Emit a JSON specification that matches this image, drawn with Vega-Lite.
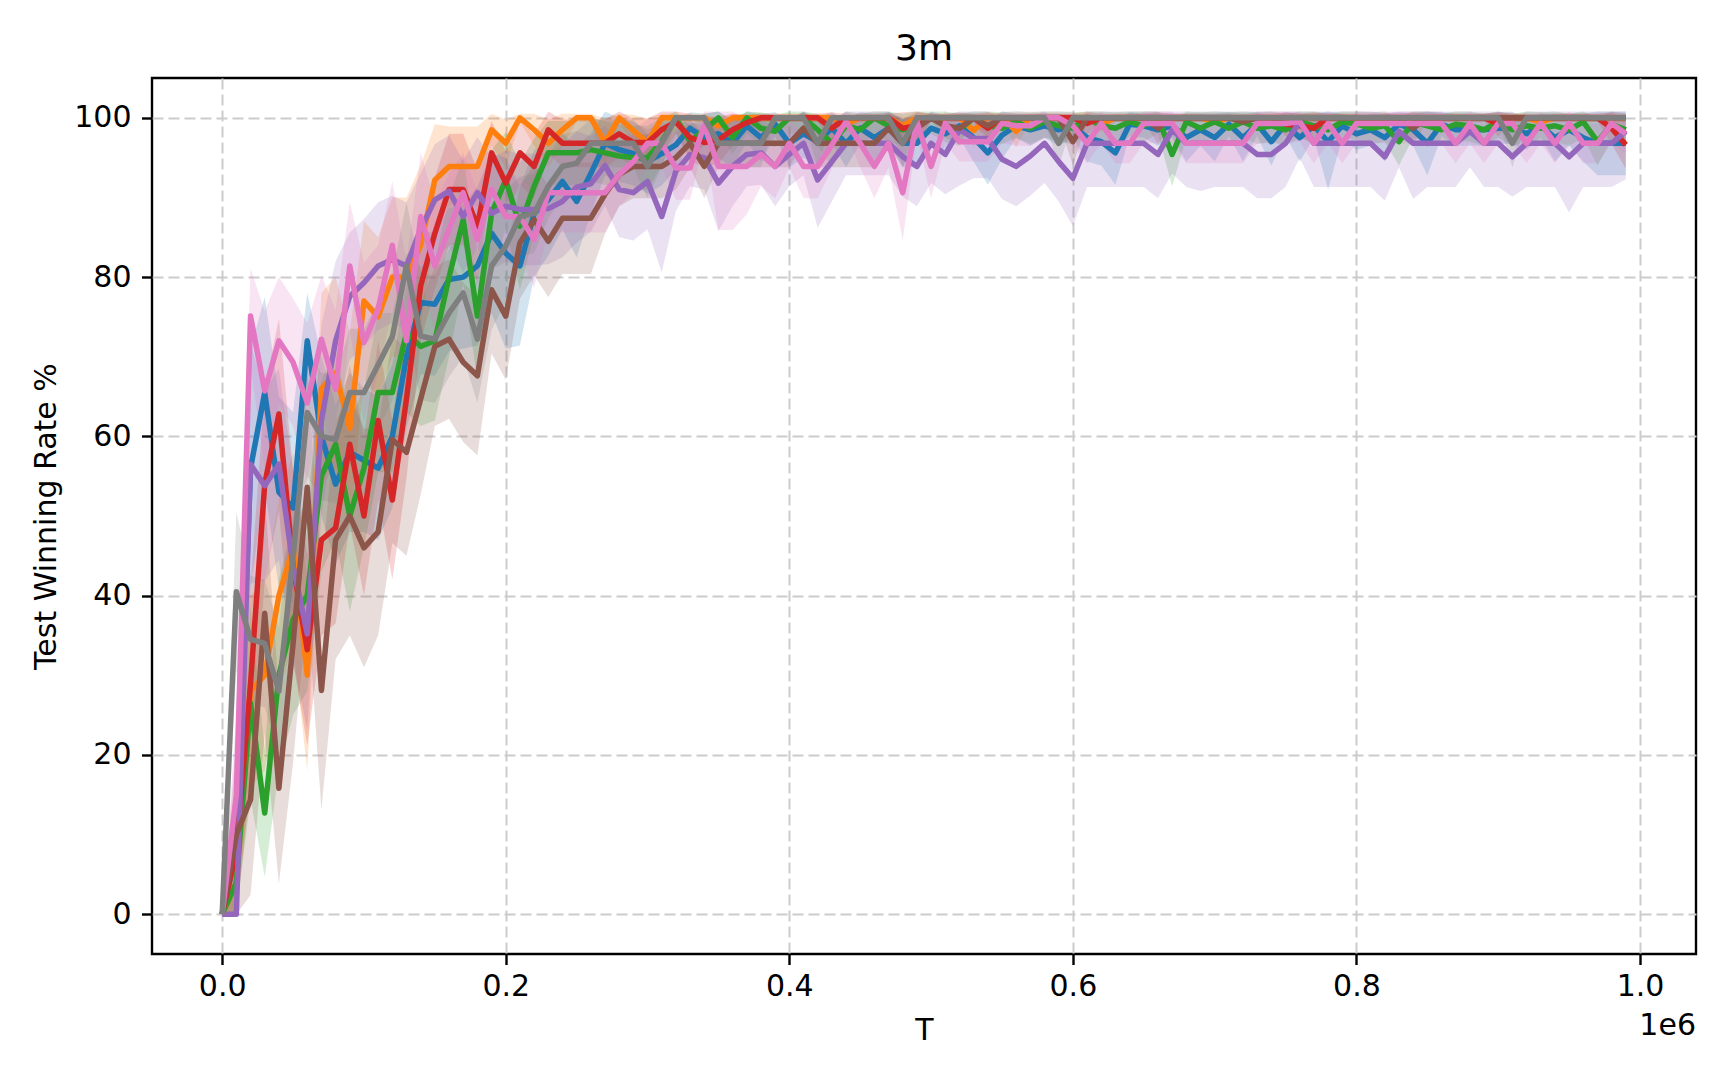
{
  "$schema": "https://vega.github.io/schema/vega-lite/v6.json",
  "width": 1544,
  "height": 876,
  "autosize": {"type": "none"},
  "padding": {"left": 152, "top": 78, "right": 32, "bottom": 126},
  "background": "white",
  "title": {"text": "3m", "fontSize": 36, "font": "DejaVu Sans", "fontWeight": "normal", "color": "black", "offset": 10.5},
  "config": {
    "view": {"stroke": "black", "strokeWidth": 2.4},
    "font": "DejaVu Sans",
    "axis": {
      "labelFontSize": 30, "labelColor": "black", "labelPadding": 10.5,
      "tickSize": 10.5, "tickWidth": 2.4, "tickColor": "black",
      "domain": false, "grid": true, "gridColor": "#cccccc", "gridDash": [11, 5], "gridWidth": 2,
      "titleFontSize": 30, "titleFontWeight": "normal", "titleColor": "black",
      "labelFlush": false, "labelOverlap": false
    }
  },
  "data": {"values": [
{"s":"A","t":0,"m":0,"l":0,"h":0},{"s":"A","t":10000,"m":8,"l":0,"h":16},{"s":"A","t":20000,"m":56,"l":41,"h":71},{"s":"A","t":30000,"m":65.5,"l":53.5,"h":77.5},{"s":"A","t":40000,"m":53,"l":41,"h":65},{"s":"A","t":50000,"m":51,"l":39,"h":63},{"s":"A","t":60000,"m":72,"l":66,"h":78},{"s":"A","t":70000,"m":60,"l":50,"h":70},{"s":"A","t":80000,"m":54,"l":44,"h":64},{"s":"A","t":90000,"m":58,"l":48,"h":68},
{"s":"A","t":100000,"m":57,"l":48,"h":66},{"s":"A","t":110000,"m":56,"l":47,"h":65},{"s":"A","t":120000,"m":60,"l":51,"h":69},{"s":"A","t":130000,"m":70,"l":61,"h":79},{"s":"A","t":140000,"m":76.8,"l":67.8,"h":85.8},{"s":"A","t":150000,"m":76.6,"l":67.6,"h":85.6},{"s":"A","t":160000,"m":79.7,"l":70.7,"h":88.7},{"s":"A","t":170000,"m":80,"l":71,"h":89},{"s":"A","t":180000,"m":81.4,"l":71.4,"h":91.4},{"s":"A","t":190000,"m":85.5,"l":75.5,"h":95.5},
{"s":"A","t":200000,"m":83,"l":71,"h":95},{"s":"A","t":210000,"m":81.4,"l":71.4,"h":91.4},{"s":"A","t":220000,"m":88,"l":80,"h":96},{"s":"A","t":230000,"m":89.7,"l":82.7,"h":96.7},{"s":"A","t":240000,"m":92,"l":86,"h":98},{"s":"A","t":250000,"m":89.5,"l":82.5,"h":96.5},{"s":"A","t":260000,"m":93,"l":88,"h":98},{"s":"A","t":270000,"m":96.8,"l":92.8,"h":100.8},{"s":"A","t":280000,"m":96,"l":92,"h":100},{"s":"A","t":290000,"m":95.5,"l":91.5,"h":99.5},
{"s":"A","t":300000,"m":94.5,"l":90.5,"h":98.5},{"s":"A","t":310000,"m":95.5,"l":91.5,"h":99.5},{"s":"A","t":320000,"m":96.6,"l":93.6,"h":99.6},{"s":"A","t":330000,"m":98.7,"l":96.7,"h":100.7},{"s":"A","t":340000,"m":97.5,"l":94.5,"h":100.5},{"s":"A","t":350000,"m":98,"l":95,"h":100.8},{"s":"A","t":360000,"m":96.8,"l":93.8,"h":99.8},{"s":"A","t":370000,"m":99,"l":97,"h":100.8},{"s":"A","t":380000,"m":97.5,"l":94.5,"h":100.5},{"s":"A","t":390000,"m":99.2,"l":97.7,"h":100.7},
{"s":"A","t":400000,"m":96.8,"l":93.8,"h":99.8},{"s":"A","t":410000,"m":98,"l":95,"h":100.8},{"s":"A","t":420000,"m":97,"l":94,"h":100},{"s":"A","t":430000,"m":98.7,"l":96.7,"h":100.7},{"s":"A","t":440000,"m":96.8,"l":93.8,"h":99.8},{"s":"A","t":450000,"m":98.7,"l":96.7,"h":100.7},{"s":"A","t":460000,"m":97.5,"l":94.5,"h":100.5},{"s":"A","t":470000,"m":98.7,"l":96.7,"h":100.7},{"s":"A","t":480000,"m":96.8,"l":93.8,"h":99.8},{"s":"A","t":490000,"m":96.8,"l":93.8,"h":99.8},
{"s":"A","t":500000,"m":98.7,"l":96.7,"h":100.7},{"s":"A","t":510000,"m":98,"l":96,"h":100},{"s":"A","t":520000,"m":99,"l":97.5,"h":100.5},{"s":"A","t":530000,"m":97.5,"l":94.5,"h":100.5},{"s":"A","t":540000,"m":95.6,"l":91.6,"h":99.6},{"s":"A","t":550000,"m":97.8,"l":94.8,"h":100.8},{"s":"A","t":560000,"m":99,"l":97.5,"h":100.5},{"s":"A","t":570000,"m":98.5,"l":96.5,"h":100.5},{"s":"A","t":580000,"m":99,"l":97.5,"h":100.5},{"s":"A","t":590000,"m":98.5,"l":96.5,"h":100.5},
{"s":"A","t":600000,"m":99,"l":97.5,"h":100.5},{"s":"A","t":610000,"m":97.5,"l":94.5,"h":100.5},{"s":"A","t":620000,"m":97,"l":94,"h":100},{"s":"A","t":630000,"m":95.6,"l":91.6,"h":99.6},{"s":"A","t":640000,"m":99.2,"l":97.7,"h":100.7},{"s":"A","t":650000,"m":99,"l":97.5,"h":100.5},{"s":"A","t":660000,"m":98.5,"l":96.5,"h":100.5},{"s":"A","t":670000,"m":99,"l":97.5,"h":100.5},{"s":"A","t":680000,"m":97.5,"l":94.5,"h":100.5},{"s":"A","t":690000,"m":98.5,"l":96.5,"h":100.5},
{"s":"A","t":700000,"m":97.5,"l":94.5,"h":100.5},{"s":"A","t":710000,"m":99.2,"l":97.7,"h":100.7},{"s":"A","t":720000,"m":97.5,"l":94.5,"h":100.5},{"s":"A","t":730000,"m":99.2,"l":97.7,"h":100.7},{"s":"A","t":740000,"m":97,"l":94,"h":100},{"s":"A","t":750000,"m":99.2,"l":97.7,"h":100.7},{"s":"A","t":760000,"m":97.5,"l":94.5,"h":100.5},{"s":"A","t":770000,"m":99,"l":97.5,"h":100.5},{"s":"A","t":780000,"m":97,"l":91,"h":100.8},{"s":"A","t":790000,"m":99,"l":97.5,"h":100.5},
{"s":"A","t":800000,"m":98,"l":96,"h":100},{"s":"A","t":810000,"m":98.5,"l":96.5,"h":100.5},{"s":"A","t":820000,"m":97.5,"l":94.5,"h":100.5},{"s":"A","t":830000,"m":99.2,"l":97.7,"h":100.7},{"s":"A","t":840000,"m":98.5,"l":96.5,"h":100.5},{"s":"A","t":850000,"m":96.8,"l":92.8,"h":100.8},{"s":"A","t":860000,"m":99.2,"l":97.7,"h":100.7},{"s":"A","t":870000,"m":98.5,"l":96.5,"h":100.5},{"s":"A","t":880000,"m":98.5,"l":96.5,"h":100.5},{"s":"A","t":890000,"m":98.5,"l":96.5,"h":100.5},
{"s":"A","t":900000,"m":98.7,"l":96.7,"h":100.7},{"s":"A","t":910000,"m":98.7,"l":96.7,"h":100.7},{"s":"A","t":920000,"m":98,"l":96,"h":100},{"s":"A","t":930000,"m":99,"l":97.5,"h":100.5},{"s":"A","t":940000,"m":97.5,"l":94.5,"h":100.5},{"s":"A","t":950000,"m":98.5,"l":96.5,"h":100.5},{"s":"A","t":960000,"m":97.5,"l":94.5,"h":100.5},{"s":"A","t":970000,"m":96.8,"l":92.8,"h":100.8},{"s":"A","t":980000,"m":96.8,"l":92.8,"h":100.8},{"s":"A","t":990000,"m":96.8,"l":92.8,"h":100.8},

{"s":"B","t":0,"m":0,"l":0,"h":0},{"s":"B","t":10000,"m":4,"l":0,"h":9},{"s":"B","t":20000,"m":28,"l":16,"h":40},{"s":"B","t":30000,"m":30,"l":18,"h":42},{"s":"B","t":40000,"m":40,"l":28,"h":52},{"s":"B","t":50000,"m":46,"l":34,"h":58},{"s":"B","t":60000,"m":30,"l":18,"h":42},{"s":"B","t":70000,"m":66,"l":54,"h":78},{"s":"B","t":80000,"m":68,"l":56,"h":80},{"s":"B","t":90000,"m":61,"l":49,"h":73},
{"s":"B","t":100000,"m":77,"l":67,"h":87},{"s":"B","t":110000,"m":75,"l":65,"h":85},{"s":"B","t":120000,"m":80,"l":70,"h":90},{"s":"B","t":130000,"m":80,"l":70,"h":90},{"s":"B","t":140000,"m":84,"l":74,"h":94},{"s":"B","t":150000,"m":92.2,"l":85.2,"h":99.2},{"s":"B","t":160000,"m":93.9,"l":88.9,"h":98.9},{"s":"B","t":170000,"m":93.9,"l":88.9,"h":98.9},{"s":"B","t":180000,"m":93.9,"l":88.9,"h":98.9},{"s":"B","t":190000,"m":98.5,"l":96.5,"h":100.5},
{"s":"B","t":200000,"m":96.8,"l":93.8,"h":99.8},{"s":"B","t":210000,"m":100,"l":99.5,"h":100.5},{"s":"B","t":220000,"m":98.5,"l":96.5,"h":100.5},{"s":"B","t":230000,"m":96.8,"l":93.8,"h":99.8},{"s":"B","t":240000,"m":98.5,"l":96.5,"h":100.5},{"s":"B","t":250000,"m":100,"l":99.5,"h":100.5},{"s":"B","t":260000,"m":100,"l":99.5,"h":100.5},{"s":"B","t":270000,"m":96.9,"l":93.9,"h":99.9},{"s":"B","t":280000,"m":100,"l":99.5,"h":100.5},{"s":"B","t":290000,"m":98.4,"l":96.4,"h":100.4},
{"s":"B","t":300000,"m":96.9,"l":93.9,"h":99.9},{"s":"B","t":310000,"m":100,"l":99.5,"h":100.5},{"s":"B","t":320000,"m":100,"l":99.5,"h":100.5},{"s":"B","t":330000,"m":100,"l":99.5,"h":100.5},{"s":"B","t":340000,"m":100,"l":99.5,"h":100.5},{"s":"B","t":350000,"m":99,"l":98,"h":100},{"s":"B","t":360000,"m":100,"l":99.5,"h":100.5},{"s":"B","t":370000,"m":100,"l":99.5,"h":100.5},{"s":"B","t":380000,"m":100,"l":99.5,"h":100.5},{"s":"B","t":390000,"m":100,"l":99.5,"h":100.5},
{"s":"B","t":400000,"m":100,"l":99.5,"h":100.5},{"s":"B","t":410000,"m":100,"l":99.5,"h":100.5},{"s":"B","t":420000,"m":100,"l":99.5,"h":100.5},{"s":"B","t":430000,"m":100,"l":99.5,"h":100.5},{"s":"B","t":440000,"m":99.2,"l":98.2,"h":100.2},{"s":"B","t":450000,"m":100,"l":99.5,"h":100.5},{"s":"B","t":460000,"m":100,"l":99.5,"h":100.5},{"s":"B","t":470000,"m":100,"l":99.5,"h":100.5},{"s":"B","t":480000,"m":99,"l":98,"h":100},{"s":"B","t":490000,"m":100,"l":99.5,"h":100.5},
{"s":"B","t":500000,"m":100,"l":99.5,"h":100.5},{"s":"B","t":510000,"m":100,"l":99.5,"h":100.5},{"s":"B","t":520000,"m":100,"l":99.5,"h":100.5},{"s":"B","t":530000,"m":98.4,"l":96.4,"h":100.4},{"s":"B","t":540000,"m":100,"l":99.5,"h":100.5},{"s":"B","t":550000,"m":100,"l":99.5,"h":100.5},{"s":"B","t":560000,"m":98.3,"l":96.3,"h":100.3},{"s":"B","t":570000,"m":100,"l":99.5,"h":100.5},{"s":"B","t":580000,"m":100,"l":99.5,"h":100.5},{"s":"B","t":590000,"m":100,"l":99.5,"h":100.5},
{"s":"B","t":600000,"m":100,"l":99.5,"h":100.5},{"s":"B","t":610000,"m":100,"l":99.5,"h":100.5},{"s":"B","t":620000,"m":99.2,"l":98.2,"h":100.2},{"s":"B","t":630000,"m":100,"l":99.5,"h":100.5},{"s":"B","t":640000,"m":100,"l":99.5,"h":100.5},{"s":"B","t":650000,"m":100,"l":99.5,"h":100.5},{"s":"B","t":660000,"m":100,"l":99.5,"h":100.5},{"s":"B","t":670000,"m":100,"l":99.5,"h":100.5},{"s":"B","t":680000,"m":100,"l":99.5,"h":100.5},{"s":"B","t":690000,"m":100,"l":99.5,"h":100.5},
{"s":"B","t":700000,"m":99.5,"l":99,"h":100},{"s":"B","t":710000,"m":100,"l":99.5,"h":100.5},{"s":"B","t":720000,"m":100,"l":99.5,"h":100.5},{"s":"B","t":730000,"m":100,"l":99.5,"h":100.5},{"s":"B","t":740000,"m":100,"l":99.5,"h":100.5},{"s":"B","t":750000,"m":100,"l":99.5,"h":100.5},{"s":"B","t":760000,"m":100,"l":99.5,"h":100.5},{"s":"B","t":770000,"m":100,"l":99.5,"h":100.5},{"s":"B","t":780000,"m":100,"l":99.5,"h":100.5},{"s":"B","t":790000,"m":100,"l":99.5,"h":100.5},
{"s":"B","t":800000,"m":100,"l":99.5,"h":100.5},{"s":"B","t":810000,"m":99.2,"l":98.2,"h":100.2},{"s":"B","t":820000,"m":100,"l":99.5,"h":100.5},{"s":"B","t":830000,"m":100,"l":99.5,"h":100.5},{"s":"B","t":840000,"m":100,"l":99.5,"h":100.5},{"s":"B","t":850000,"m":100,"l":99.5,"h":100.5},{"s":"B","t":860000,"m":100,"l":99.5,"h":100.5},{"s":"B","t":870000,"m":100,"l":99.5,"h":100.5},{"s":"B","t":880000,"m":100,"l":99.5,"h":100.5},{"s":"B","t":890000,"m":100,"l":99.5,"h":100.5},
{"s":"B","t":900000,"m":100,"l":99.5,"h":100.5},{"s":"B","t":910000,"m":100,"l":99.5,"h":100.5},{"s":"B","t":920000,"m":100,"l":99.5,"h":100.5},{"s":"B","t":930000,"m":99.5,"l":99,"h":100},{"s":"B","t":940000,"m":100,"l":99.5,"h":100.5},{"s":"B","t":950000,"m":100,"l":99.5,"h":100.5},{"s":"B","t":960000,"m":100,"l":99.5,"h":100.5},{"s":"B","t":970000,"m":100,"l":99.5,"h":100.5},{"s":"B","t":980000,"m":100,"l":99.5,"h":100.5},{"s":"B","t":990000,"m":100,"l":99.5,"h":100.5},

{"s":"C","t":0,"m":0,"l":0,"h":0},{"s":"C","t":10000,"m":4,"l":0,"h":9},{"s":"C","t":20000,"m":26.5,"l":14.5,"h":38.5},{"s":"C","t":30000,"m":12.7,"l":4.7,"h":20.7},{"s":"C","t":40000,"m":30,"l":18,"h":42},{"s":"C","t":50000,"m":37,"l":25,"h":49},{"s":"C","t":60000,"m":40,"l":28,"h":52},{"s":"C","t":70000,"m":55,"l":43,"h":67},{"s":"C","t":80000,"m":59,"l":47,"h":71},{"s":"C","t":90000,"m":50,"l":38,"h":62},
{"s":"C","t":100000,"m":56,"l":46,"h":66},{"s":"C","t":110000,"m":65.5,"l":55.5,"h":75.5},{"s":"C","t":120000,"m":65.5,"l":55.5,"h":75.5},{"s":"C","t":130000,"m":73,"l":63,"h":83},{"s":"C","t":140000,"m":71.3,"l":61.3,"h":81.3},{"s":"C","t":150000,"m":72,"l":62,"h":82},{"s":"C","t":160000,"m":80,"l":70,"h":90},{"s":"C","t":170000,"m":87.2,"l":79.2,"h":95.2},{"s":"C","t":180000,"m":75.1,"l":67.1,"h":83.1},{"s":"C","t":190000,"m":88,"l":80,"h":96},
{"s":"C","t":200000,"m":92.2,"l":86.2,"h":98.2},{"s":"C","t":210000,"m":86.4,"l":78.4,"h":94.4},{"s":"C","t":220000,"m":91.4,"l":85.4,"h":97.4},{"s":"C","t":230000,"m":95.6,"l":91.6,"h":99.6},{"s":"C","t":240000,"m":95.6,"l":91.6,"h":99.6},{"s":"C","t":250000,"m":95.6,"l":91.6,"h":99.6},{"s":"C","t":260000,"m":96,"l":92,"h":100},{"s":"C","t":270000,"m":95.6,"l":91.6,"h":99.6},{"s":"C","t":280000,"m":95.2,"l":91.2,"h":99.2},{"s":"C","t":290000,"m":95,"l":91,"h":99},
{"s":"C","t":300000,"m":95,"l":91,"h":99},{"s":"C","t":310000,"m":97,"l":94,"h":100},{"s":"C","t":320000,"m":100,"l":98,"h":100.8},{"s":"C","t":330000,"m":97,"l":95,"h":99},{"s":"C","t":340000,"m":98.5,"l":96.5,"h":100.5},{"s":"C","t":350000,"m":100,"l":98,"h":100.8},{"s":"C","t":360000,"m":97.5,"l":95.5,"h":99.5},{"s":"C","t":370000,"m":100,"l":98,"h":100.8},{"s":"C","t":380000,"m":98.7,"l":96.7,"h":100.7},{"s":"C","t":390000,"m":98.3,"l":96.3,"h":100.3},
{"s":"C","t":400000,"m":100,"l":98,"h":100.8},{"s":"C","t":410000,"m":100,"l":98,"h":100.8},{"s":"C","t":420000,"m":98.5,"l":96.5,"h":100.5},{"s":"C","t":430000,"m":96.8,"l":93.8,"h":99.8},{"s":"C","t":440000,"m":99,"l":97,"h":100.8},{"s":"C","t":450000,"m":98.5,"l":96.5,"h":100.5},{"s":"C","t":460000,"m":100,"l":98,"h":100.8},{"s":"C","t":470000,"m":99,"l":97,"h":100.8},{"s":"C","t":480000,"m":98.5,"l":96.5,"h":100.5},{"s":"C","t":490000,"m":99,"l":97,"h":100.8},
{"s":"C","t":500000,"m":100,"l":98,"h":100.8},{"s":"C","t":510000,"m":99,"l":97,"h":100.8},{"s":"C","t":520000,"m":98.5,"l":96.5,"h":100.5},{"s":"C","t":530000,"m":100,"l":98,"h":100.8},{"s":"C","t":540000,"m":99,"l":97,"h":100.8},{"s":"C","t":550000,"m":98.7,"l":96.7,"h":100.7},{"s":"C","t":560000,"m":99.5,"l":97.5,"h":100.8},{"s":"C","t":570000,"m":98.7,"l":96.7,"h":100.7},{"s":"C","t":580000,"m":99.5,"l":97.5,"h":100.8},{"s":"C","t":590000,"m":99,"l":97,"h":100.8},
{"s":"C","t":600000,"m":98.7,"l":96.7,"h":100.7},{"s":"C","t":610000,"m":100,"l":98,"h":100.8},{"s":"C","t":620000,"m":99,"l":97,"h":100.8},{"s":"C","t":630000,"m":98.7,"l":96.7,"h":100.7},{"s":"C","t":640000,"m":99.5,"l":97.5,"h":100.8},{"s":"C","t":650000,"m":99,"l":97,"h":100.8},{"s":"C","t":660000,"m":100,"l":98,"h":100.8},{"s":"C","t":670000,"m":95.4,"l":91.4,"h":99.4},{"s":"C","t":680000,"m":99.5,"l":97.5,"h":100.8},{"s":"C","t":690000,"m":98.7,"l":96.7,"h":100.7},
{"s":"C","t":700000,"m":99.5,"l":97.5,"h":100.8},{"s":"C","t":710000,"m":98.7,"l":96.7,"h":100.7},{"s":"C","t":720000,"m":99.5,"l":97.5,"h":100.8},{"s":"C","t":730000,"m":98.7,"l":96.7,"h":100.7},{"s":"C","t":740000,"m":99,"l":97,"h":100.8},{"s":"C","t":750000,"m":98.5,"l":96.5,"h":100.5},{"s":"C","t":760000,"m":99.5,"l":97.5,"h":100.8},{"s":"C","t":770000,"m":99,"l":97,"h":100.8},{"s":"C","t":780000,"m":98.5,"l":96.5,"h":100.5},{"s":"C","t":790000,"m":99.5,"l":97.5,"h":100.8},
{"s":"C","t":800000,"m":99.2,"l":97.2,"h":100.8},{"s":"C","t":810000,"m":98.7,"l":96.7,"h":100.7},{"s":"C","t":820000,"m":99,"l":97,"h":100.8},{"s":"C","t":830000,"m":97,"l":94,"h":100},{"s":"C","t":840000,"m":99.5,"l":97.5,"h":100.8},{"s":"C","t":850000,"m":99,"l":97,"h":100.8},{"s":"C","t":860000,"m":98.5,"l":96.5,"h":100.5},{"s":"C","t":870000,"m":99.2,"l":97.2,"h":100.8},{"s":"C","t":880000,"m":99,"l":97,"h":100.8},{"s":"C","t":890000,"m":98.5,"l":96.5,"h":100.5},
{"s":"C","t":900000,"m":99.5,"l":97.5,"h":100.8},{"s":"C","t":910000,"m":98.5,"l":96.5,"h":100.5},{"s":"C","t":920000,"m":99,"l":97,"h":100.8},{"s":"C","t":930000,"m":98.7,"l":96.7,"h":100.7},{"s":"C","t":940000,"m":99,"l":97,"h":100.8},{"s":"C","t":950000,"m":98.5,"l":96.5,"h":100.5},{"s":"C","t":960000,"m":99.5,"l":97.5,"h":100.8},{"s":"C","t":970000,"m":97,"l":94,"h":100},{"s":"C","t":980000,"m":99.2,"l":97.2,"h":100.8},{"s":"C","t":990000,"m":98.5,"l":96.5,"h":100.5},

{"s":"D","t":0,"m":0,"l":0,"h":0},{"s":"D","t":10000,"m":8,"l":0,"h":16},{"s":"D","t":20000,"m":29,"l":17,"h":41},{"s":"D","t":30000,"m":54,"l":42,"h":66},{"s":"D","t":40000,"m":62.8,"l":50.8,"h":74.8},{"s":"D","t":50000,"m":43.7,"l":31.7,"h":55.7},{"s":"D","t":60000,"m":33.2,"l":21.2,"h":45.2},{"s":"D","t":70000,"m":47,"l":35,"h":59},{"s":"D","t":80000,"m":48.5,"l":36.5,"h":60.5},{"s":"D","t":90000,"m":59,"l":49,"h":69},
{"s":"D","t":100000,"m":50,"l":40,"h":60},{"s":"D","t":110000,"m":62,"l":52,"h":72},{"s":"D","t":120000,"m":52,"l":42,"h":62},{"s":"D","t":130000,"m":64.7,"l":54.7,"h":74.7},{"s":"D","t":140000,"m":78.9,"l":71.9,"h":85.9},{"s":"D","t":150000,"m":85.5,"l":78.5,"h":92.5},{"s":"D","t":160000,"m":91,"l":84,"h":98},{"s":"D","t":170000,"m":91,"l":84,"h":98},{"s":"D","t":180000,"m":86.4,"l":79.4,"h":93.4},{"s":"D","t":190000,"m":95.6,"l":91.6,"h":99.6},
{"s":"D","t":200000,"m":91.8,"l":87.8,"h":95.8},{"s":"D","t":210000,"m":95.6,"l":91.6,"h":99.6},{"s":"D","t":220000,"m":93.9,"l":89.9,"h":97.9},{"s":"D","t":230000,"m":98.5,"l":95.5,"h":100.8},{"s":"D","t":240000,"m":96.8,"l":93.8,"h":99.8},{"s":"D","t":250000,"m":96.8,"l":93.8,"h":99.8},{"s":"D","t":260000,"m":96.8,"l":93.8,"h":99.8},{"s":"D","t":270000,"m":96.8,"l":93.8,"h":99.8},{"s":"D","t":280000,"m":98,"l":95,"h":100.8},{"s":"D","t":290000,"m":96.9,"l":93.9,"h":99.9},
{"s":"D","t":300000,"m":96.9,"l":93.9,"h":99.9},{"s":"D","t":310000,"m":98.5,"l":95.5,"h":100.8},{"s":"D","t":320000,"m":99.5,"l":98,"h":100.8},{"s":"D","t":330000,"m":97.5,"l":94.5,"h":100.5},{"s":"D","t":340000,"m":96.9,"l":93.9,"h":99.9},{"s":"D","t":350000,"m":97.2,"l":94.2,"h":100.2},{"s":"D","t":360000,"m":98.5,"l":96.5,"h":100.5},{"s":"D","t":370000,"m":99.4,"l":98.4,"h":100.4},{"s":"D","t":380000,"m":100,"l":99.5,"h":100.5},{"s":"D","t":390000,"m":100,"l":99.5,"h":100.5},
{"s":"D","t":400000,"m":100,"l":99.5,"h":100.5},{"s":"D","t":410000,"m":100,"l":99.5,"h":100.5},{"s":"D","t":420000,"m":100,"l":99.5,"h":100.5},{"s":"D","t":430000,"m":98.7,"l":96.7,"h":100.7},{"s":"D","t":440000,"m":100,"l":99.5,"h":100.5},{"s":"D","t":450000,"m":100,"l":99.5,"h":100.5},{"s":"D","t":460000,"m":100,"l":99.5,"h":100.5},{"s":"D","t":470000,"m":100,"l":99.5,"h":100.5},{"s":"D","t":480000,"m":98.7,"l":96.7,"h":100.7},{"s":"D","t":490000,"m":99,"l":97,"h":100.8},
{"s":"D","t":500000,"m":100,"l":99.5,"h":100.5},{"s":"D","t":510000,"m":100,"l":99.5,"h":100.5},{"s":"D","t":520000,"m":100,"l":99.5,"h":100.5},{"s":"D","t":530000,"m":100,"l":99.5,"h":100.5},{"s":"D","t":540000,"m":98.7,"l":96.7,"h":100.7},{"s":"D","t":550000,"m":100,"l":99.5,"h":100.5},{"s":"D","t":560000,"m":100,"l":99.5,"h":100.5},{"s":"D","t":570000,"m":100,"l":99.5,"h":100.5},{"s":"D","t":580000,"m":100,"l":99.5,"h":100.5},{"s":"D","t":590000,"m":100,"l":99.5,"h":100.5},
{"s":"D","t":600000,"m":100,"l":99.5,"h":100.5},{"s":"D","t":610000,"m":99.3,"l":97.8,"h":100.8},{"s":"D","t":620000,"m":100,"l":99.5,"h":100.5},{"s":"D","t":630000,"m":100,"l":99.5,"h":100.5},{"s":"D","t":640000,"m":100,"l":99.5,"h":100.5},{"s":"D","t":650000,"m":100,"l":99.5,"h":100.5},{"s":"D","t":660000,"m":100,"l":99.5,"h":100.5},{"s":"D","t":670000,"m":100,"l":99.5,"h":100.5},{"s":"D","t":680000,"m":100,"l":99.5,"h":100.5},{"s":"D","t":690000,"m":100,"l":99.5,"h":100.5},
{"s":"D","t":700000,"m":100,"l":99.5,"h":100.5},{"s":"D","t":710000,"m":100,"l":99.5,"h":100.5},{"s":"D","t":720000,"m":100,"l":99.5,"h":100.5},{"s":"D","t":730000,"m":100,"l":99.5,"h":100.5},{"s":"D","t":740000,"m":100,"l":99.5,"h":100.5},{"s":"D","t":750000,"m":99.2,"l":97.7,"h":100.7},{"s":"D","t":760000,"m":99,"l":97.5,"h":100.5},{"s":"D","t":770000,"m":98.7,"l":96.7,"h":100.7},{"s":"D","t":780000,"m":100,"l":99.5,"h":100.5},{"s":"D","t":790000,"m":100,"l":99.5,"h":100.5},
{"s":"D","t":800000,"m":100,"l":99.5,"h":100.5},{"s":"D","t":810000,"m":100,"l":99.5,"h":100.5},{"s":"D","t":820000,"m":100,"l":99.5,"h":100.5},{"s":"D","t":830000,"m":100,"l":99.5,"h":100.5},{"s":"D","t":840000,"m":100,"l":99.5,"h":100.5},{"s":"D","t":850000,"m":100,"l":99.5,"h":100.5},{"s":"D","t":860000,"m":100,"l":99.5,"h":100.5},{"s":"D","t":870000,"m":100,"l":99.5,"h":100.5},{"s":"D","t":880000,"m":100,"l":99.5,"h":100.5},{"s":"D","t":890000,"m":100,"l":99.5,"h":100.5},
{"s":"D","t":900000,"m":99.2,"l":97.7,"h":100.7},{"s":"D","t":910000,"m":100,"l":99.5,"h":100.5},{"s":"D","t":920000,"m":100,"l":99.5,"h":100.5},{"s":"D","t":930000,"m":100,"l":99.5,"h":100.5},{"s":"D","t":940000,"m":100,"l":99.5,"h":100.5},{"s":"D","t":950000,"m":100,"l":99.5,"h":100.5},{"s":"D","t":960000,"m":100,"l":99.5,"h":100.5},{"s":"D","t":970000,"m":100,"l":99.5,"h":100.5},{"s":"D","t":980000,"m":98.7,"l":96.7,"h":100.7},{"s":"D","t":990000,"m":96.6,"l":93.6,"h":99.6},

{"s":"E","t":0,"m":0,"l":0,"h":0},{"s":"E","t":10000,"m":0,"l":0,"h":0},{"s":"E","t":20000,"m":56.5,"l":41.5,"h":71.5},{"s":"E","t":30000,"m":53.8,"l":41.8,"h":65.8},{"s":"E","t":40000,"m":56.5,"l":44.5,"h":68.5},{"s":"E","t":50000,"m":43.7,"l":31.7,"h":55.7},{"s":"E","t":60000,"m":35.2,"l":23.2,"h":47.2},{"s":"E","t":70000,"m":62,"l":50,"h":74},{"s":"E","t":80000,"m":72,"l":62,"h":82},{"s":"E","t":90000,"m":77.6,"l":69.6,"h":85.6},
{"s":"E","t":100000,"m":79.3,"l":71.3,"h":87.3},{"s":"E","t":110000,"m":81.4,"l":73.4,"h":89.4},{"s":"E","t":120000,"m":82.2,"l":74.2,"h":90.2},{"s":"E","t":130000,"m":81.4,"l":73.4,"h":89.4},{"s":"E","t":140000,"m":86,"l":79,"h":93},{"s":"E","t":150000,"m":89.7,"l":82.7,"h":96.7},{"s":"E","t":160000,"m":90.8,"l":83.8,"h":97.8},{"s":"E","t":170000,"m":87.6,"l":80.6,"h":94.6},{"s":"E","t":180000,"m":90.6,"l":83.6,"h":97.6},{"s":"E","t":190000,"m":88,"l":81,"h":95},
{"s":"E","t":200000,"m":88.9,"l":81.9,"h":95.9},{"s":"E","t":210000,"m":88.5,"l":81.5,"h":95.5},{"s":"E","t":220000,"m":88.5,"l":81.5,"h":95.5},{"s":"E","t":230000,"m":88.6,"l":81.6,"h":95.6},{"s":"E","t":240000,"m":89.5,"l":82.5,"h":96.5},{"s":"E","t":250000,"m":91.3,"l":84.3,"h":98.3},{"s":"E","t":260000,"m":91.7,"l":85.7,"h":97.7},{"s":"E","t":270000,"m":94,"l":89,"h":99},{"s":"E","t":280000,"m":91,"l":85,"h":97},{"s":"E","t":290000,"m":90.6,"l":84.6,"h":96.6},
{"s":"E","t":300000,"m":92,"l":86,"h":98},{"s":"E","t":310000,"m":87.6,"l":80.6,"h":94.6},{"s":"E","t":320000,"m":93.3,"l":88.3,"h":98.3},{"s":"E","t":330000,"m":95.4,"l":91.4,"h":99.4},{"s":"E","t":340000,"m":95,"l":91,"h":99},{"s":"E","t":350000,"m":91.8,"l":85.8,"h":97.8},{"s":"E","t":360000,"m":93.9,"l":88.9,"h":98.9},{"s":"E","t":370000,"m":95.4,"l":91.4,"h":99.4},{"s":"E","t":380000,"m":95.6,"l":91.6,"h":99.6},{"s":"E","t":390000,"m":93.9,"l":88.9,"h":98.9},
{"s":"E","t":400000,"m":95.4,"l":91.4,"h":99.4},{"s":"E","t":410000,"m":96.8,"l":92.8,"h":100.8},{"s":"E","t":420000,"m":92.2,"l":86.2,"h":98.2},{"s":"E","t":430000,"m":94.5,"l":89.5,"h":99.5},{"s":"E","t":440000,"m":96.8,"l":92.8,"h":100.8},{"s":"E","t":450000,"m":96.8,"l":92.8,"h":100.8},{"s":"E","t":460000,"m":96.8,"l":92.8,"h":100.8},{"s":"E","t":470000,"m":96.8,"l":92.8,"h":100.8},{"s":"E","t":480000,"m":95.1,"l":90.1,"h":100},{"s":"E","t":490000,"m":93.9,"l":88.9,"h":98.9},
{"s":"E","t":500000,"m":96.8,"l":91.8,"h":100.8},{"s":"E","t":510000,"m":95.4,"l":90.4,"h":100.4},{"s":"E","t":520000,"m":98.5,"l":91.5,"h":100.8},{"s":"E","t":530000,"m":97.4,"l":92.4,"h":100.8},{"s":"E","t":540000,"m":97.4,"l":92.4,"h":100.8},{"s":"E","t":550000,"m":94.8,"l":89.8,"h":99.8},{"s":"E","t":560000,"m":93.9,"l":88.9,"h":98.9},{"s":"E","t":570000,"m":95.2,"l":90.2,"h":100.2},{"s":"E","t":580000,"m":96.8,"l":91.8,"h":100.8},{"s":"E","t":590000,"m":94.5,"l":89.5,"h":99.5},
{"s":"E","t":600000,"m":92.4,"l":86.4,"h":98.4},{"s":"E","t":610000,"m":96.8,"l":91.3,"h":100.8},{"s":"E","t":620000,"m":96.8,"l":91.3,"h":100.8},{"s":"E","t":630000,"m":96.8,"l":91.3,"h":100.8},{"s":"E","t":640000,"m":96.8,"l":91.3,"h":100.8},{"s":"E","t":650000,"m":96.8,"l":91.3,"h":100.8},{"s":"E","t":660000,"m":95.4,"l":89.9,"h":100.8},{"s":"E","t":670000,"m":98.5,"l":93,"h":100.8},{"s":"E","t":680000,"m":96.8,"l":91.3,"h":100.8},{"s":"E","t":690000,"m":96.8,"l":90.8,"h":100.8},
{"s":"E","t":700000,"m":96.8,"l":91.3,"h":100.8},{"s":"E","t":710000,"m":96.8,"l":91.3,"h":100.8},{"s":"E","t":720000,"m":96.8,"l":91.3,"h":100.8},{"s":"E","t":730000,"m":95.4,"l":89.9,"h":100.8},{"s":"E","t":740000,"m":95.4,"l":89.9,"h":100.8},{"s":"E","t":750000,"m":96.8,"l":91.3,"h":100.8},{"s":"E","t":760000,"m":99.5,"l":95,"h":100.8},{"s":"E","t":770000,"m":96.8,"l":91.3,"h":100.8},{"s":"E","t":780000,"m":96.8,"l":91.3,"h":100.8},{"s":"E","t":790000,"m":96.8,"l":91.3,"h":100.8},
{"s":"E","t":800000,"m":96.8,"l":91.3,"h":100.8},{"s":"E","t":810000,"m":96.8,"l":91.3,"h":100.8},{"s":"E","t":820000,"m":95.1,"l":89.6,"h":100.6},{"s":"E","t":830000,"m":98.3,"l":93.8,"h":100.8},{"s":"E","t":840000,"m":96.8,"l":89.8,"h":100.8},{"s":"E","t":850000,"m":96.8,"l":91.3,"h":100.8},{"s":"E","t":860000,"m":96.8,"l":91.3,"h":100.8},{"s":"E","t":870000,"m":96.8,"l":91.3,"h":100.8},{"s":"E","t":880000,"m":98.3,"l":93.8,"h":100.8},{"s":"E","t":890000,"m":96.8,"l":91.3,"h":100.8},
{"s":"E","t":900000,"m":96.8,"l":91.3,"h":100.8},{"s":"E","t":910000,"m":95.1,"l":90.1,"h":100.1},{"s":"E","t":920000,"m":96.8,"l":91.3,"h":100.8},{"s":"E","t":930000,"m":96.8,"l":91.3,"h":100.8},{"s":"E","t":940000,"m":96.8,"l":91.3,"h":100.8},{"s":"E","t":950000,"m":95.1,"l":88.1,"h":100.8},{"s":"E","t":960000,"m":96.8,"l":91.3,"h":100.8},{"s":"E","t":970000,"m":96.8,"l":91.3,"h":100.8},{"s":"E","t":980000,"m":96.8,"l":91.3,"h":100.8},{"s":"E","t":990000,"m":98.3,"l":92.3,"h":100.8},

{"s":"F","t":0,"m":0,"l":0,"h":0},{"s":"F","t":10000,"m":10,"l":0,"h":22},{"s":"F","t":20000,"m":14.4,"l":2.4,"h":26.4},{"s":"F","t":30000,"m":37.8,"l":22.8,"h":52.8},{"s":"F","t":40000,"m":15.8,"l":3.8,"h":27.8},{"s":"F","t":50000,"m":34,"l":19,"h":49},{"s":"F","t":60000,"m":53.6,"l":38.6,"h":68.6},{"s":"F","t":70000,"m":28.1,"l":13.1,"h":43.1},{"s":"F","t":80000,"m":47,"l":32,"h":62},{"s":"F","t":90000,"m":50,"l":35,"h":65},
{"s":"F","t":100000,"m":46,"l":31,"h":61},{"s":"F","t":110000,"m":48,"l":35,"h":61},{"s":"F","t":120000,"m":59.6,"l":46.6,"h":72.6},{"s":"F","t":130000,"m":58,"l":45,"h":71},{"s":"F","t":140000,"m":64.7,"l":52.7,"h":76.7},{"s":"F","t":150000,"m":71.3,"l":61.3,"h":81.3},{"s":"F","t":160000,"m":72.2,"l":62.2,"h":82.2},{"s":"F","t":170000,"m":69.3,"l":59.3,"h":79.3},{"s":"F","t":180000,"m":67.6,"l":57.6,"h":77.6},{"s":"F","t":190000,"m":78.4,"l":70.4,"h":86.4},
{"s":"F","t":200000,"m":75.1,"l":67.1,"h":83.1},{"s":"F","t":210000,"m":84.3,"l":77.3,"h":91.3},{"s":"F","t":220000,"m":87.2,"l":80.2,"h":94.2},{"s":"F","t":230000,"m":84.5,"l":77.5,"h":91.5},{"s":"F","t":240000,"m":87.4,"l":80.4,"h":94.4},{"s":"F","t":250000,"m":87.4,"l":80.4,"h":94.4},{"s":"F","t":260000,"m":87.4,"l":80.4,"h":94.4},{"s":"F","t":270000,"m":90.4,"l":85.4,"h":95.4},{"s":"F","t":280000,"m":92.9,"l":88.9,"h":96.9},{"s":"F","t":290000,"m":93.9,"l":89.9,"h":97.9},
{"s":"F","t":300000,"m":93.9,"l":89.9,"h":97.9},{"s":"F","t":310000,"m":93.9,"l":89.9,"h":97.9},{"s":"F","t":320000,"m":95,"l":91,"h":99},{"s":"F","t":330000,"m":96.8,"l":93.8,"h":99.8},{"s":"F","t":340000,"m":93.9,"l":89.9,"h":97.9},{"s":"F","t":350000,"m":96.8,"l":93.8,"h":99.8},{"s":"F","t":360000,"m":96.8,"l":93.8,"h":99.8},{"s":"F","t":370000,"m":96.8,"l":93.8,"h":99.8},{"s":"F","t":380000,"m":96.8,"l":93.8,"h":99.8},{"s":"F","t":390000,"m":96.8,"l":93.8,"h":99.8},
{"s":"F","t":400000,"m":96.8,"l":93.8,"h":99.8},{"s":"F","t":410000,"m":98.7,"l":96.7,"h":100.7},{"s":"F","t":420000,"m":96.8,"l":93.8,"h":99.8},{"s":"F","t":430000,"m":96.8,"l":93.8,"h":99.8},{"s":"F","t":440000,"m":96.8,"l":93.8,"h":99.8},{"s":"F","t":450000,"m":96.8,"l":93.8,"h":99.8},{"s":"F","t":460000,"m":96.8,"l":93.8,"h":99.8},{"s":"F","t":470000,"m":98.7,"l":96.7,"h":100.7},{"s":"F","t":480000,"m":96.8,"l":93.8,"h":99.8},{"s":"F","t":490000,"m":98.7,"l":96.7,"h":100.7},
{"s":"F","t":500000,"m":100,"l":99.5,"h":100.5},{"s":"F","t":510000,"m":99,"l":97.5,"h":100.5},{"s":"F","t":520000,"m":98.7,"l":96.7,"h":100.7},{"s":"F","t":530000,"m":100,"l":99.5,"h":100.5},{"s":"F","t":540000,"m":99,"l":97.5,"h":100.5},{"s":"F","t":550000,"m":100,"l":99.5,"h":100.5},{"s":"F","t":560000,"m":100,"l":99.5,"h":100.5},{"s":"F","t":570000,"m":100,"l":99.5,"h":100.5},{"s":"F","t":580000,"m":100,"l":99.5,"h":100.5},{"s":"F","t":590000,"m":100,"l":99.5,"h":100.5},
{"s":"F","t":600000,"m":97,"l":94,"h":100},{"s":"F","t":610000,"m":100,"l":99.5,"h":100.5},{"s":"F","t":620000,"m":100,"l":99.5,"h":100.5},{"s":"F","t":630000,"m":100,"l":99.5,"h":100.5},{"s":"F","t":640000,"m":100,"l":99.5,"h":100.5},{"s":"F","t":650000,"m":100,"l":99.5,"h":100.5},{"s":"F","t":660000,"m":98.7,"l":96.7,"h":100.7},{"s":"F","t":670000,"m":100,"l":99.5,"h":100.5},{"s":"F","t":680000,"m":100,"l":99.5,"h":100.5},{"s":"F","t":690000,"m":100,"l":99.5,"h":100.5},
{"s":"F","t":700000,"m":100,"l":99.5,"h":100.5},{"s":"F","t":710000,"m":100,"l":99.5,"h":100.5},{"s":"F","t":720000,"m":99.5,"l":99,"h":100},{"s":"F","t":730000,"m":100,"l":99.5,"h":100.5},{"s":"F","t":740000,"m":100,"l":99.5,"h":100.5},{"s":"F","t":750000,"m":100,"l":99.5,"h":100.5},{"s":"F","t":760000,"m":100,"l":99.5,"h":100.5},{"s":"F","t":770000,"m":100,"l":99.5,"h":100.5},{"s":"F","t":780000,"m":100,"l":99.5,"h":100.5},{"s":"F","t":790000,"m":100,"l":99.5,"h":100.5},
{"s":"F","t":800000,"m":100,"l":99.5,"h":100.5},{"s":"F","t":810000,"m":100,"l":99.5,"h":100.5},{"s":"F","t":820000,"m":100,"l":99.5,"h":100.5},{"s":"F","t":830000,"m":100,"l":99.5,"h":100.5},{"s":"F","t":840000,"m":98.7,"l":96.7,"h":100.7},{"s":"F","t":850000,"m":100,"l":99.5,"h":100.5},{"s":"F","t":860000,"m":100,"l":99.5,"h":100.5},{"s":"F","t":870000,"m":100,"l":99.5,"h":100.5},{"s":"F","t":880000,"m":100,"l":99.5,"h":100.5},{"s":"F","t":890000,"m":100,"l":99.5,"h":100.5},
{"s":"F","t":900000,"m":100,"l":99.5,"h":100.5},{"s":"F","t":910000,"m":100,"l":99.5,"h":100.5},{"s":"F","t":920000,"m":100,"l":99.5,"h":100.5},{"s":"F","t":930000,"m":100,"l":99.5,"h":100.5},{"s":"F","t":940000,"m":100,"l":99.5,"h":100.5},{"s":"F","t":950000,"m":100,"l":99.5,"h":100.5},{"s":"F","t":960000,"m":100,"l":99.5,"h":100.5},{"s":"F","t":970000,"m":100,"l":99.5,"h":100.5},{"s":"F","t":980000,"m":100,"l":99.5,"h":100.5},{"s":"F","t":990000,"m":100,"l":99.5,"h":100.5},

{"s":"G","t":0,"m":0,"l":0,"h":0},{"s":"G","t":10000,"m":15,"l":5,"h":25},{"s":"G","t":20000,"m":75.1,"l":69.1,"h":81.1},{"s":"G","t":30000,"m":65.7,"l":55.7,"h":75.7},{"s":"G","t":40000,"m":72,"l":64,"h":80},{"s":"G","t":50000,"m":69.3,"l":61.3,"h":77.3},{"s":"G","t":60000,"m":64.2,"l":54.2,"h":74.2},{"s":"G","t":70000,"m":72.2,"l":64.2,"h":80.2},{"s":"G","t":80000,"m":65.9,"l":55.9,"h":75.9},{"s":"G","t":90000,"m":81.4,"l":73.4,"h":89.4},
{"s":"G","t":100000,"m":71.8,"l":61.8,"h":81.8},{"s":"G","t":110000,"m":76,"l":68,"h":84},{"s":"G","t":120000,"m":84,"l":76,"h":92},{"s":"G","t":130000,"m":72,"l":62,"h":82},{"s":"G","t":140000,"m":87.6,"l":79.6,"h":95.6},{"s":"G","t":150000,"m":81.4,"l":73.4,"h":89.4},{"s":"G","t":160000,"m":86,"l":79,"h":93},{"s":"G","t":170000,"m":90.6,"l":85.6,"h":95.6},{"s":"G","t":180000,"m":84.7,"l":78.7,"h":90.7},{"s":"G","t":190000,"m":91,"l":86,"h":96},
{"s":"G","t":200000,"m":87.6,"l":82.6,"h":92.6},{"s":"G","t":210000,"m":87.6,"l":82.6,"h":92.6},{"s":"G","t":220000,"m":84.7,"l":78.7,"h":90.7},{"s":"G","t":230000,"m":90.6,"l":85.6,"h":95.6},{"s":"G","t":240000,"m":90.6,"l":85.6,"h":95.6},{"s":"G","t":250000,"m":90.6,"l":85.6,"h":95.6},{"s":"G","t":260000,"m":90.6,"l":85.6,"h":95.6},{"s":"G","t":270000,"m":90.6,"l":85.6,"h":95.6},{"s":"G","t":280000,"m":92.9,"l":88.9,"h":96.9},{"s":"G","t":290000,"m":94.5,"l":90.5,"h":98.5},
{"s":"G","t":300000,"m":96.8,"l":93.8,"h":99.8},{"s":"G","t":310000,"m":96.8,"l":93.8,"h":99.8},{"s":"G","t":320000,"m":93.7,"l":89.7,"h":97.7},{"s":"G","t":330000,"m":93.7,"l":89.7,"h":97.7},{"s":"G","t":340000,"m":99.1,"l":97.1,"h":100.8},{"s":"G","t":350000,"m":93.9,"l":85.9,"h":100.8},{"s":"G","t":360000,"m":93.9,"l":85.9,"h":100.8},{"s":"G","t":370000,"m":93.9,"l":87.9,"h":99.9},{"s":"G","t":380000,"m":95.4,"l":91.4,"h":99.4},{"s":"G","t":390000,"m":93.9,"l":89.9,"h":97.9},
{"s":"G","t":400000,"m":96.8,"l":93.8,"h":99.8},{"s":"G","t":410000,"m":93.9,"l":89.9,"h":97.9},{"s":"G","t":420000,"m":93.9,"l":89.9,"h":97.9},{"s":"G","t":430000,"m":96.6,"l":93.6,"h":99.6},{"s":"G","t":440000,"m":99.5,"l":98,"h":100.8},{"s":"G","t":450000,"m":96.8,"l":93.8,"h":99.8},{"s":"G","t":460000,"m":93.9,"l":89.9,"h":97.9},{"s":"G","t":470000,"m":96.8,"l":93.8,"h":99.8},{"s":"G","t":480000,"m":90.6,"l":84.6,"h":96.6},{"s":"G","t":490000,"m":99.5,"l":98,"h":100.8},
{"s":"G","t":500000,"m":93.9,"l":89.9,"h":97.9},{"s":"G","t":510000,"m":99.3,"l":96.8,"h":100.8},{"s":"G","t":520000,"m":97,"l":94.5,"h":99.5},{"s":"G","t":530000,"m":97,"l":94.5,"h":99.5},{"s":"G","t":540000,"m":97,"l":94.5,"h":99.5},{"s":"G","t":550000,"m":99.3,"l":96.8,"h":100.8},{"s":"G","t":560000,"m":99,"l":96.5,"h":100.8},{"s":"G","t":570000,"m":99,"l":96.5,"h":100.8},{"s":"G","t":580000,"m":100,"l":97.5,"h":100.8},{"s":"G","t":590000,"m":100,"l":97.5,"h":100.8},
{"s":"G","t":600000,"m":99,"l":96.5,"h":100.8},{"s":"G","t":610000,"m":96.8,"l":94.3,"h":99.3},{"s":"G","t":620000,"m":99.3,"l":96.8,"h":100.8},{"s":"G","t":630000,"m":96.8,"l":94.3,"h":99.3},{"s":"G","t":640000,"m":96.8,"l":94.3,"h":99.3},{"s":"G","t":650000,"m":99.3,"l":96.8,"h":100.8},{"s":"G","t":660000,"m":99.3,"l":96.8,"h":100.8},{"s":"G","t":670000,"m":99.3,"l":96.8,"h":100.8},{"s":"G","t":680000,"m":96.8,"l":94.3,"h":99.3},{"s":"G","t":690000,"m":96.8,"l":94.3,"h":99.3},
{"s":"G","t":700000,"m":96.8,"l":94.3,"h":99.3},{"s":"G","t":710000,"m":96.8,"l":94.3,"h":99.3},{"s":"G","t":720000,"m":96.8,"l":94.3,"h":99.3},{"s":"G","t":730000,"m":99.3,"l":96.8,"h":100.8},{"s":"G","t":740000,"m":99.3,"l":96.8,"h":100.8},{"s":"G","t":750000,"m":99.3,"l":96.8,"h":100.8},{"s":"G","t":760000,"m":99.5,"l":97,"h":100.8},{"s":"G","t":770000,"m":96.8,"l":94.3,"h":99.3},{"s":"G","t":780000,"m":99.3,"l":96.8,"h":100.8},{"s":"G","t":790000,"m":96.8,"l":94.3,"h":99.3},
{"s":"G","t":800000,"m":99.3,"l":96.8,"h":100.8},{"s":"G","t":810000,"m":99.3,"l":96.8,"h":100.8},{"s":"G","t":820000,"m":99.3,"l":96.8,"h":100.8},{"s":"G","t":830000,"m":99.3,"l":96.8,"h":100.8},{"s":"G","t":840000,"m":99.3,"l":96.8,"h":100.8},{"s":"G","t":850000,"m":99.3,"l":96.8,"h":100.8},{"s":"G","t":860000,"m":99.3,"l":96.8,"h":100.8},{"s":"G","t":870000,"m":96.8,"l":94.3,"h":99.3},{"s":"G","t":880000,"m":99.3,"l":96.8,"h":100.8},{"s":"G","t":890000,"m":96.8,"l":94.3,"h":99.3},
{"s":"G","t":900000,"m":99.3,"l":96.8,"h":100.8},{"s":"G","t":910000,"m":99.3,"l":96.8,"h":100.8},{"s":"G","t":920000,"m":96.8,"l":94.3,"h":99.3},{"s":"G","t":930000,"m":99.3,"l":96.8,"h":100.8},{"s":"G","t":940000,"m":96.8,"l":94.3,"h":99.3},{"s":"G","t":950000,"m":99.3,"l":96.8,"h":100.8},{"s":"G","t":960000,"m":96.8,"l":94.3,"h":99.3},{"s":"G","t":970000,"m":96.8,"l":94.3,"h":99.3},{"s":"G","t":980000,"m":99.3,"l":96.8,"h":100.8},{"s":"G","t":990000,"m":98,"l":95.5,"h":100.5},

{"s":"H","t":0,"m":0,"l":0,"h":0},{"s":"H","t":10000,"m":40.5,"l":30.5,"h":50.5},{"s":"H","t":20000,"m":34.5,"l":26.5,"h":42.5},{"s":"H","t":30000,"m":34,"l":26,"h":42},{"s":"H","t":40000,"m":28,"l":20,"h":36},{"s":"H","t":50000,"m":45,"l":37,"h":53},{"s":"H","t":60000,"m":63,"l":55,"h":71},{"s":"H","t":70000,"m":60,"l":52,"h":68},{"s":"H","t":80000,"m":59.6,"l":51.6,"h":67.6},{"s":"H","t":90000,"m":65.5,"l":57.5,"h":73.5},
{"s":"H","t":100000,"m":65.5,"l":57.5,"h":73.5},{"s":"H","t":110000,"m":69,"l":61,"h":77},{"s":"H","t":120000,"m":72.5,"l":64.5,"h":80.5},{"s":"H","t":130000,"m":81.4,"l":73.4,"h":89.4},{"s":"H","t":140000,"m":72.6,"l":64.6,"h":80.6},{"s":"H","t":150000,"m":72.2,"l":64.2,"h":80.2},{"s":"H","t":160000,"m":75.5,"l":67.5,"h":83.5},{"s":"H","t":170000,"m":78,"l":70,"h":86},{"s":"H","t":180000,"m":72.2,"l":64.2,"h":80.2},{"s":"H","t":190000,"m":81.4,"l":73.4,"h":89.4},
{"s":"H","t":200000,"m":83.9,"l":76.9,"h":90.9},{"s":"H","t":210000,"m":87.6,"l":82.6,"h":92.6},{"s":"H","t":220000,"m":88,"l":83,"h":93},{"s":"H","t":230000,"m":91.4,"l":87.4,"h":95.4},{"s":"H","t":240000,"m":93.9,"l":89.9,"h":97.9},{"s":"H","t":250000,"m":94.3,"l":90.3,"h":98.3},{"s":"H","t":260000,"m":96.8,"l":93.8,"h":99.8},{"s":"H","t":270000,"m":96.8,"l":93.8,"h":99.8},{"s":"H","t":280000,"m":96.8,"l":93.8,"h":99.8},{"s":"H","t":290000,"m":96.8,"l":93.8,"h":99.8},
{"s":"H","t":300000,"m":93.9,"l":89.9,"h":97.9},{"s":"H","t":310000,"m":96.8,"l":93.8,"h":99.8},{"s":"H","t":320000,"m":100,"l":99.7,"h":100.3},{"s":"H","t":330000,"m":100,"l":99.7,"h":100.3},{"s":"H","t":340000,"m":100,"l":99.7,"h":100.3},{"s":"H","t":350000,"m":96.8,"l":93.8,"h":99.8},{"s":"H","t":360000,"m":96.8,"l":93.8,"h":99.8},{"s":"H","t":370000,"m":96.8,"l":93.8,"h":99.8},{"s":"H","t":380000,"m":96.8,"l":93.8,"h":99.8},{"s":"H","t":390000,"m":100,"l":99.7,"h":100.3},
{"s":"H","t":400000,"m":100,"l":99.7,"h":100.3},{"s":"H","t":410000,"m":100,"l":99.7,"h":100.3},{"s":"H","t":420000,"m":96.8,"l":93.8,"h":99.8},{"s":"H","t":430000,"m":100,"l":99.7,"h":100.3},{"s":"H","t":440000,"m":100,"l":99.7,"h":100.3},{"s":"H","t":450000,"m":100,"l":99.7,"h":100.3},{"s":"H","t":460000,"m":100,"l":99.7,"h":100.3},{"s":"H","t":470000,"m":100,"l":99.7,"h":100.3},{"s":"H","t":480000,"m":96.8,"l":93.8,"h":99.8},{"s":"H","t":490000,"m":100,"l":99.7,"h":100.3},
{"s":"H","t":500000,"m":100,"l":99.7,"h":100.3},{"s":"H","t":510000,"m":100,"l":99.7,"h":100.3},{"s":"H","t":520000,"m":100,"l":99.7,"h":100.3},{"s":"H","t":530000,"m":100,"l":99.7,"h":100.3},{"s":"H","t":540000,"m":100,"l":99.7,"h":100.3},{"s":"H","t":550000,"m":100,"l":99.7,"h":100.3},{"s":"H","t":560000,"m":100,"l":99.7,"h":100.3},{"s":"H","t":570000,"m":100,"l":99.7,"h":100.3},{"s":"H","t":580000,"m":100,"l":99.7,"h":100.3},{"s":"H","t":590000,"m":96.8,"l":93.8,"h":99.8},
{"s":"H","t":600000,"m":100,"l":99.7,"h":100.3},{"s":"H","t":610000,"m":100,"l":99.7,"h":100.3},{"s":"H","t":620000,"m":100,"l":99.7,"h":100.3},{"s":"H","t":630000,"m":100,"l":99.7,"h":100.3},{"s":"H","t":640000,"m":100,"l":99.7,"h":100.3},{"s":"H","t":650000,"m":100,"l":99.7,"h":100.3},{"s":"H","t":660000,"m":100,"l":99.7,"h":100.3},{"s":"H","t":670000,"m":100,"l":99.7,"h":100.3},{"s":"H","t":680000,"m":100,"l":99.7,"h":100.3},{"s":"H","t":690000,"m":100,"l":99.7,"h":100.3},
{"s":"H","t":700000,"m":100,"l":99.7,"h":100.3},{"s":"H","t":710000,"m":100,"l":99.7,"h":100.3},{"s":"H","t":720000,"m":100,"l":99.7,"h":100.3},{"s":"H","t":730000,"m":100,"l":99.7,"h":100.3},{"s":"H","t":740000,"m":100,"l":99.7,"h":100.3},{"s":"H","t":750000,"m":100,"l":99.7,"h":100.3},{"s":"H","t":760000,"m":100,"l":99.7,"h":100.3},{"s":"H","t":770000,"m":100,"l":99.7,"h":100.3},{"s":"H","t":780000,"m":100,"l":99.7,"h":100.3},{"s":"H","t":790000,"m":100,"l":99.7,"h":100.3},
{"s":"H","t":800000,"m":100,"l":99.7,"h":100.3},{"s":"H","t":810000,"m":100,"l":99.7,"h":100.3},{"s":"H","t":820000,"m":100,"l":99.7,"h":100.3},{"s":"H","t":830000,"m":100,"l":99.7,"h":100.3},{"s":"H","t":840000,"m":100,"l":99.7,"h":100.3},{"s":"H","t":850000,"m":100,"l":99.7,"h":100.3},{"s":"H","t":860000,"m":100,"l":99.7,"h":100.3},{"s":"H","t":870000,"m":100,"l":99.7,"h":100.3},{"s":"H","t":880000,"m":100,"l":99.7,"h":100.3},{"s":"H","t":890000,"m":100,"l":99.7,"h":100.3},
{"s":"H","t":900000,"m":100,"l":99.7,"h":100.3},{"s":"H","t":910000,"m":96.8,"l":93.8,"h":99.8},{"s":"H","t":920000,"m":100,"l":99.7,"h":100.3},{"s":"H","t":930000,"m":100,"l":99.7,"h":100.3},{"s":"H","t":940000,"m":100,"l":99.7,"h":100.3},{"s":"H","t":950000,"m":100,"l":99.7,"h":100.3},{"s":"H","t":960000,"m":100,"l":99.7,"h":100.3},{"s":"H","t":970000,"m":100,"l":99.7,"h":100.3},{"s":"H","t":980000,"m":100,"l":99.7,"h":100.3},{"s":"H","t":990000,"m":100,"l":99.7,"h":100.3}
  ]},
  "encoding": {
    "x": {
      "field": "t", "type": "quantitative",
      "scale": {"domain": [-49500, 1039500], "nice": false, "zero": false},
      "axis": {
        "values": [0, 200000, 400000, 600000, 800000, 1000000],
        "labelExpr": "format(datum.value / 1000000, '.1f')",
        "labelPadding": 7,
        "title": "T", "titleY": 76, "titleBaseline": "middle"
      }
    },
    "color": {
      "field": "s", "type": "nominal", "legend": null,
      "scale": {
        "domain": ["A", "B", "C", "D", "E", "F", "G", "H"],
        "range": ["#1f77b4", "#ff7f0e", "#2ca02c", "#d62728", "#9467bd", "#8c564b", "#e377c2", "#7f7f7f"]
      }
    }
  },
  "layer": [
    {
      "mark": {"type": "area", "opacity": 0.2},
      "encoding": {
        "y": {
          "field": "l", "type": "quantitative",
          "scale": {"domain": [-5, 105], "nice": false, "zero": false},
          "title": "Test Winning Rate %",
          "axis": {"values": [0, 20, 40, 60, 80, 100], "titleX": -106, "titleY": 438, "titleAngle": 270, "titleAlign": "center", "titleBaseline": "middle"}
        },
        "y2": {"field": "h"}
      }
    },
    {
      "mark": {"type": "line", "strokeWidth": 5.5, "strokeJoin": "round"},
      "encoding": {
        "y": {
          "field": "m", "type": "quantitative",
          "title": "Test Winning Rate %",
          "axis": {"values": [0, 20, 40, 60, 80, 100], "titleX": -106, "titleY": 438, "titleAngle": 270, "titleAlign": "center", "titleBaseline": "middle"}
        }
      }
    },
    {
      "transform": [{"filter": "datum.s == 'H' && datum.t == 990000"}],
      "mark": {"type": "text", "align": "right", "baseline": "middle", "fontSize": 30, "font": "DejaVu Sans", "color": "black", "clip": false},
      "encoding": {
        "x": {"datum": 1039500, "type": "quantitative"},
        "y": {"datum": -14, "type": "quantitative"},
        "text": {"value": "1e6"},
        "color": {"value": "black"}
      }
    }
  ]
}
